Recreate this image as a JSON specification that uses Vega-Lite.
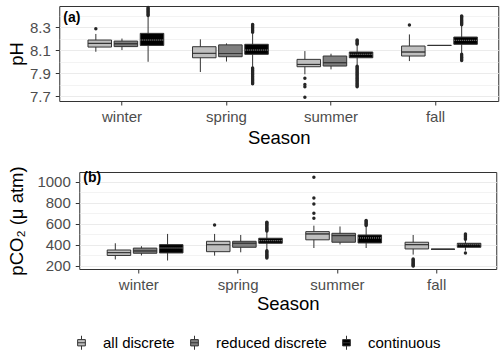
{
  "$schema": "https://vega.github.io/schema/vega-lite/v6.json",
  "background": "white",
  "padding": {"left": 6, "top": 5, "right": 2, "bottom": 2},
  "config": {
    "font": "Liberation Sans",
    "view": {"stroke": "#333333", "strokeWidth": 1},
    "axis": {"domain": false, "labelColor": "#4d4d4d", "labelFontSize": 15, "titleFontSize": 18.5, "titleFontWeight": "normal", "titleColor": "#000000", "tickColor": "#333333", "tickSize": 4, "gridColor": "#ebebeb", "gridWidth": 1},
    "legend": {"orient": "none", "legendX": 15, "legendY": 329, "direction": "horizontal", "labelFontSize": 15, "labelColor": "#000000", "symbolSize": 196, "symbolStrokeColor": "#333333", "symbolStrokeWidth": 1, "labelOffset": 14, "columnPadding": 12}
  },
  "datasets": {
    "ph": [
      {"season": "winter", "group": "all discrete", "lo": 8.085, "q1": 8.126, "med": 8.158, "q3": 8.187, "hi": 8.24},
      {"season": "winter", "group": "reduced discrete", "lo": 8.10, "q1": 8.13, "med": 8.155, "q3": 8.178, "hi": 8.20},
      {"season": "winter", "group": "continuous", "lo": 7.998, "q1": 8.14, "med": 8.187, "q3": 8.245, "hi": 8.395},
      {"season": "spring", "group": "all discrete", "lo": 7.909, "q1": 8.033, "med": 8.071, "q3": 8.129, "hi": 8.193},
      {"season": "spring", "group": "reduced discrete", "lo": 8.0, "q1": 8.042, "med": 8.07, "q3": 8.145, "hi": 8.158},
      {"season": "spring", "group": "continuous", "lo": 7.95, "q1": 8.063, "med": 8.1, "q3": 8.15, "hi": 8.245},
      {"season": "summer", "group": "all discrete", "lo": 7.889, "q1": 7.955, "med": 7.975, "q3": 8.019, "hi": 8.091},
      {"season": "summer", "group": "reduced discrete", "lo": 7.932, "q1": 7.961, "med": 7.99, "q3": 8.048, "hi": 8.068},
      {"season": "summer", "group": "continuous", "lo": 7.967, "q1": 8.033, "med": 8.063, "q3": 8.083, "hi": 8.14},
      {"season": "fall", "group": "all discrete", "lo": 8.004, "q1": 8.048, "med": 8.083, "q3": 8.135, "hi": 8.236},
      {"season": "fall", "group": "reduced discrete", "lo": 8.14, "q1": 8.14, "med": 8.14, "q3": 8.14, "hi": 8.14},
      {"season": "fall", "group": "continuous", "lo": 8.07, "q1": 8.15, "med": 8.184, "q3": 8.213, "hi": 8.31}
    ],
    "pho": [
      {"season": "winter", "group": "all discrete", "v": 8.285},
      {"season": "winter", "group": "continuous", "v": 8.40},
      {"season": "winter", "group": "continuous", "v": 8.41},
      {"season": "winter", "group": "continuous", "v": 8.42},
      {"season": "winter", "group": "continuous", "v": 8.43},
      {"season": "winter", "group": "continuous", "v": 8.44},
      {"season": "winter", "group": "continuous", "v": 8.45},
      {"season": "winter", "group": "continuous", "v": 8.46},
      {"season": "winter", "group": "continuous", "v": 8.47},
      {"season": "spring", "group": "continuous", "v": 8.255},
      {"season": "spring", "group": "continuous", "v": 8.265},
      {"season": "spring", "group": "continuous", "v": 8.275},
      {"season": "spring", "group": "continuous", "v": 8.285},
      {"season": "spring", "group": "continuous", "v": 8.295},
      {"season": "spring", "group": "continuous", "v": 8.305},
      {"season": "spring", "group": "continuous", "v": 8.315},
      {"season": "spring", "group": "continuous", "v": 8.322},
      {"season": "spring", "group": "continuous", "v": 7.945},
      {"season": "spring", "group": "continuous", "v": 7.935},
      {"season": "spring", "group": "continuous", "v": 7.925},
      {"season": "spring", "group": "continuous", "v": 7.915},
      {"season": "spring", "group": "continuous", "v": 7.905},
      {"season": "spring", "group": "continuous", "v": 7.895},
      {"season": "spring", "group": "continuous", "v": 7.885},
      {"season": "spring", "group": "continuous", "v": 7.875},
      {"season": "spring", "group": "continuous", "v": 7.865},
      {"season": "spring", "group": "continuous", "v": 7.855},
      {"season": "spring", "group": "continuous", "v": 7.845},
      {"season": "spring", "group": "continuous", "v": 7.835},
      {"season": "spring", "group": "continuous", "v": 7.825},
      {"season": "spring", "group": "continuous", "v": 7.815},
      {"season": "spring", "group": "continuous", "v": 7.807},
      {"season": "summer", "group": "all discrete", "v": 7.854},
      {"season": "summer", "group": "all discrete", "v": 7.80},
      {"season": "summer", "group": "all discrete", "v": 7.78},
      {"season": "summer", "group": "all discrete", "v": 7.689},
      {"season": "summer", "group": "continuous", "v": 8.15},
      {"season": "summer", "group": "continuous", "v": 8.16},
      {"season": "summer", "group": "continuous", "v": 8.17},
      {"season": "summer", "group": "continuous", "v": 8.18},
      {"season": "summer", "group": "continuous", "v": 8.187},
      {"season": "summer", "group": "continuous", "v": 7.96},
      {"season": "summer", "group": "continuous", "v": 7.95},
      {"season": "summer", "group": "continuous", "v": 7.94},
      {"season": "summer", "group": "continuous", "v": 7.93},
      {"season": "summer", "group": "continuous", "v": 7.92},
      {"season": "summer", "group": "continuous", "v": 7.91},
      {"season": "summer", "group": "continuous", "v": 7.90},
      {"season": "summer", "group": "continuous", "v": 7.89},
      {"season": "summer", "group": "continuous", "v": 7.88},
      {"season": "summer", "group": "continuous", "v": 7.87},
      {"season": "summer", "group": "continuous", "v": 7.86},
      {"season": "summer", "group": "continuous", "v": 7.85},
      {"season": "summer", "group": "continuous", "v": 7.84},
      {"season": "summer", "group": "continuous", "v": 7.83},
      {"season": "summer", "group": "continuous", "v": 7.82},
      {"season": "summer", "group": "continuous", "v": 7.81},
      {"season": "summer", "group": "continuous", "v": 7.80},
      {"season": "summer", "group": "continuous", "v": 7.79},
      {"season": "summer", "group": "continuous", "v": 7.78},
      {"season": "fall", "group": "all discrete", "v": 8.317},
      {"season": "fall", "group": "continuous", "v": 8.32},
      {"season": "fall", "group": "continuous", "v": 8.33},
      {"season": "fall", "group": "continuous", "v": 8.34},
      {"season": "fall", "group": "continuous", "v": 8.35},
      {"season": "fall", "group": "continuous", "v": 8.36},
      {"season": "fall", "group": "continuous", "v": 8.37},
      {"season": "fall", "group": "continuous", "v": 8.38},
      {"season": "fall", "group": "continuous", "v": 8.39},
      {"season": "fall", "group": "continuous", "v": 8.396},
      {"season": "fall", "group": "continuous", "v": 8.063},
      {"season": "fall", "group": "continuous", "v": 8.05},
      {"season": "fall", "group": "continuous", "v": 8.04},
      {"season": "fall", "group": "continuous", "v": 8.03},
      {"season": "fall", "group": "continuous", "v": 8.02},
      {"season": "fall", "group": "continuous", "v": 8.01}
    ],
    "co2": [
      {"season": "winter", "group": "all discrete", "lo": 262, "q1": 300, "med": 327, "q3": 352, "hi": 416},
      {"season": "winter", "group": "reduced discrete", "lo": 300, "q1": 321, "med": 343, "q3": 370, "hi": 388},
      {"season": "winter", "group": "continuous", "lo": 252, "q1": 324, "med": 371, "q3": 403, "hi": 505},
      {"season": "spring", "group": "all discrete", "lo": 298, "q1": 336, "med": 403, "q3": 435, "hi": 505},
      {"season": "spring", "group": "reduced discrete", "lo": 330, "q1": 378, "med": 416, "q3": 435, "hi": 495},
      {"season": "spring", "group": "continuous", "lo": 350, "q1": 416, "med": 441, "q3": 464, "hi": 525},
      {"season": "summer", "group": "all discrete", "lo": 371, "q1": 449, "med": 505, "q3": 527, "hi": 584},
      {"season": "summer", "group": "reduced discrete", "lo": 405, "q1": 426, "med": 489, "q3": 511, "hi": 576},
      {"season": "summer", "group": "continuous", "lo": 371, "q1": 419, "med": 467, "q3": 495, "hi": 572},
      {"season": "fall", "group": "all discrete", "lo": 308, "q1": 362, "med": 403, "q3": 426, "hi": 495},
      {"season": "fall", "group": "reduced discrete", "lo": 359, "q1": 359, "med": 359, "q3": 359, "hi": 359},
      {"season": "fall", "group": "continuous", "lo": 346, "q1": 378, "med": 403, "q3": 416, "hi": 445}
    ],
    "co2o": [
      {"season": "spring", "group": "all discrete", "v": 590},
      {"season": "spring", "group": "continuous", "v": 532},
      {"season": "spring", "group": "continuous", "v": 542},
      {"season": "spring", "group": "continuous", "v": 552},
      {"season": "spring", "group": "continuous", "v": 562},
      {"season": "spring", "group": "continuous", "v": 572},
      {"season": "spring", "group": "continuous", "v": 582},
      {"season": "spring", "group": "continuous", "v": 592},
      {"season": "spring", "group": "continuous", "v": 602},
      {"season": "spring", "group": "continuous", "v": 612},
      {"season": "spring", "group": "continuous", "v": 616},
      {"season": "spring", "group": "continuous", "v": 345},
      {"season": "spring", "group": "continuous", "v": 335},
      {"season": "spring", "group": "continuous", "v": 325},
      {"season": "spring", "group": "continuous", "v": 315},
      {"season": "spring", "group": "continuous", "v": 305},
      {"season": "spring", "group": "continuous", "v": 295},
      {"season": "spring", "group": "continuous", "v": 285},
      {"season": "spring", "group": "continuous", "v": 275},
      {"season": "summer", "group": "all discrete", "v": 654},
      {"season": "summer", "group": "all discrete", "v": 702},
      {"season": "summer", "group": "all discrete", "v": 790},
      {"season": "summer", "group": "all discrete", "v": 848},
      {"season": "summer", "group": "all discrete", "v": 1045},
      {"season": "summer", "group": "continuous", "v": 585},
      {"season": "summer", "group": "continuous", "v": 595},
      {"season": "summer", "group": "continuous", "v": 605},
      {"season": "summer", "group": "continuous", "v": 615},
      {"season": "summer", "group": "continuous", "v": 625},
      {"season": "summer", "group": "continuous", "v": 632},
      {"season": "fall", "group": "all discrete", "v": 267},
      {"season": "fall", "group": "all discrete", "v": 258},
      {"season": "fall", "group": "all discrete", "v": 249},
      {"season": "fall", "group": "all discrete", "v": 240},
      {"season": "fall", "group": "all discrete", "v": 231},
      {"season": "fall", "group": "all discrete", "v": 222},
      {"season": "fall", "group": "all discrete", "v": 213},
      {"season": "fall", "group": "all discrete", "v": 204},
      {"season": "fall", "group": "all discrete", "v": 199},
      {"season": "fall", "group": "continuous", "v": 455},
      {"season": "fall", "group": "continuous", "v": 465},
      {"season": "fall", "group": "continuous", "v": 475},
      {"season": "fall", "group": "continuous", "v": 485},
      {"season": "fall", "group": "continuous", "v": 495},
      {"season": "fall", "group": "continuous", "v": 505},
      {"season": "fall", "group": "continuous", "v": 324}
    ]
  },
  "spacing": 18,
  "center": true,
  "vconcat": [
    {
      "width": 439,
      "height": 95,
      "title": {"text": "(a)", "anchor": "start", "frame": "group", "offset": -19, "dx": 4, "fontSize": 14, "fontWeight": "bold", "color": "#000000"},
      "resolve": {"axis": {"y": "independent"}, "scale": {"stroke": "independent", "strokeDash": "independent"}},
      "layer": [
        {
          "data": {"name": "ph"},
          "mark": {"type": "rule", "color": "#333333", "strokeWidth": 1},
          "encoding": {
            "x": {"field": "season", "type": "nominal", "sort": ["winter", "spring", "summer", "fall"], "scale": {"paddingInner": 0, "paddingOuter": 0.1}, "title": "Season", "axis": {"labelAngle": 0, "labelPadding": 4, "titlePadding": 4}},
            "xOffset": {"field": "group", "sort": ["all discrete", "reduced discrete", "continuous"], "scale": {"paddingInner": 0, "paddingOuter": 0.5}},
            "y": {"field": "lo", "type": "quantitative", "scale": {"domain": [7.657, 8.483], "nice": false, "zero": false}, "title": "pH", "axis": {"values": [7.7, 7.9, 8.1, 8.3], "format": ".1f", "labelPadding": 5, "titlePadding": 3}},
            "y2": {"field": "hi"}
          }
        },
        {
          "data": {"name": "ph"},
          "mark": {"type": "bar", "stroke": "#333333", "strokeWidth": 1, "width": {"band": 0.9}},
          "encoding": {
            "x": {"field": "season", "type": "nominal", "sort": ["winter", "spring", "summer", "fall"]},
            "xOffset": {"field": "group", "sort": ["all discrete", "reduced discrete", "continuous"]},
            "y": {"field": "q1", "type": "quantitative", "scale": {"domain": [7.657, 8.483], "nice": false, "zero": false}, "axis": {"orient": "right", "values": [7.8, 8.0, 8.2, 8.4], "labels": false, "ticks": false, "domain": false, "title": null, "grid": true, "gridWidth": 0.6}},
            "y2": {"field": "q3"},
            "color": {"field": "group", "type": "nominal", "sort": ["all discrete", "reduced discrete", "continuous"], "scale": {"domain": ["all discrete", "reduced discrete", "continuous"], "range": ["#bfbfbf", "#7f7f7f", "#000000"]}, "legend": {"title": null, "symbolType": "M0,-1V-0.45M-0.55,-0.45H0.55V0.45H-0.55ZM-0.55,0H0.55M0,0.45V1"}}
          }
        },
        {
          "data": {"name": "ph"},
          "mark": {"type": "bar", "strokeWidth": 1, "fill": null, "width": {"band": 0.9}},
          "encoding": {
            "x": {"field": "season", "type": "nominal", "sort": ["winter", "spring", "summer", "fall"]},
            "xOffset": {"field": "group", "sort": ["all discrete", "reduced discrete", "continuous"]},
            "y": {"field": "med", "type": "quantitative", "scale": {"domain": [7.657, 8.483], "nice": false, "zero": false}, "axis": null},
            "y2": {"field": "med"},
            "stroke": {"field": "group", "type": "nominal", "scale": {"domain": ["all discrete", "reduced discrete", "continuous"], "range": ["#333333", "#333333", "#6e6e6e"]}, "legend": null},
            "strokeDash": {"field": "group", "type": "nominal", "scale": {"domain": ["all discrete", "reduced discrete", "continuous"], "range": [[1, 0], [1, 0], [1, 1]]}, "legend": null}
          }
        },
        {
          "data": {"name": "pho"},
          "mark": {"type": "circle", "color": "#262626", "opacity": 1, "size": 12},
          "encoding": {
            "x": {"field": "season", "type": "nominal", "sort": ["winter", "spring", "summer", "fall"]},
            "xOffset": {"field": "group", "sort": ["all discrete", "reduced discrete", "continuous"]},
            "y": {"field": "v", "type": "quantitative", "scale": {"domain": [7.657, 8.483], "nice": false, "zero": false}, "axis": {"orient": "right", "offset": 18, "labels": false, "ticks": false, "grid": false, "title": null, "domain": true, "domainOpacity": 0}}
          }
        }
      ]
    },
    {
      "width": 417,
      "height": 97,
      "title": {"text": "(b)", "anchor": "start", "frame": "group", "offset": -19, "dx": 4, "fontSize": 14, "fontWeight": "bold", "color": "#000000"},
      "resolve": {"axis": {"y": "independent"}, "scale": {"stroke": "independent", "strokeDash": "independent"}},
      "layer": [
        {
          "data": {"name": "co2"},
          "mark": {"type": "rule", "color": "#333333", "strokeWidth": 1},
          "encoding": {
            "x": {"field": "season", "type": "nominal", "sort": ["winter", "spring", "summer", "fall"], "scale": {"paddingInner": 0, "paddingOuter": 0.1}, "title": "Season", "axis": {"labelAngle": 0, "labelPadding": 4, "titlePadding": 2}},
            "xOffset": {"field": "group", "sort": ["all discrete", "reduced discrete", "continuous"], "scale": {"paddingInner": 0, "paddingOuter": 0.5}},
            "y": {"field": "lo", "type": "quantitative", "scale": {"domain": [171, 1095], "nice": false, "zero": false}, "title": "pCO₂ (μ atm)", "axis": {"values": [200, 400, 600, 800, 1000], "format": "d", "labelPadding": 5, "titlePadding": 10}},
            "y2": {"field": "hi"}
          }
        },
        {
          "data": {"name": "co2"},
          "mark": {"type": "bar", "stroke": "#333333", "strokeWidth": 1, "width": {"band": 0.9}},
          "encoding": {
            "x": {"field": "season", "type": "nominal", "sort": ["winter", "spring", "summer", "fall"]},
            "xOffset": {"field": "group", "sort": ["all discrete", "reduced discrete", "continuous"]},
            "y": {"field": "q1", "type": "quantitative", "scale": {"domain": [171, 1095], "nice": false, "zero": false}, "axis": {"orient": "right", "values": [300, 500, 700, 900], "labels": false, "ticks": false, "domain": false, "title": null, "grid": true, "gridWidth": 0.6}},
            "y2": {"field": "q3"},
            "color": {"field": "group", "type": "nominal", "sort": ["all discrete", "reduced discrete", "continuous"], "scale": {"domain": ["all discrete", "reduced discrete", "continuous"], "range": ["#bfbfbf", "#7f7f7f", "#000000"]}, "legend": {"title": null, "symbolType": "M0,-1V-0.45M-0.55,-0.45H0.55V0.45H-0.55ZM-0.55,0H0.55M0,0.45V1"}}
          }
        },
        {
          "data": {"name": "co2"},
          "mark": {"type": "bar", "strokeWidth": 1, "fill": null, "width": {"band": 0.9}},
          "encoding": {
            "x": {"field": "season", "type": "nominal", "sort": ["winter", "spring", "summer", "fall"]},
            "xOffset": {"field": "group", "sort": ["all discrete", "reduced discrete", "continuous"]},
            "y": {"field": "med", "type": "quantitative", "scale": {"domain": [171, 1095], "nice": false, "zero": false}, "axis": null},
            "y2": {"field": "med"},
            "stroke": {"field": "group", "type": "nominal", "scale": {"domain": ["all discrete", "reduced discrete", "continuous"], "range": ["#333333", "#333333", "#6e6e6e"]}, "legend": null},
            "strokeDash": {"field": "group", "type": "nominal", "scale": {"domain": ["all discrete", "reduced discrete", "continuous"], "range": [[1, 0], [1, 0], [1, 1]]}, "legend": null}
          }
        },
        {
          "data": {"name": "co2o"},
          "mark": {"type": "circle", "color": "#262626", "opacity": 1, "size": 12},
          "encoding": {
            "x": {"field": "season", "type": "nominal", "sort": ["winter", "spring", "summer", "fall"]},
            "xOffset": {"field": "group", "sort": ["all discrete", "reduced discrete", "continuous"]},
            "y": {"field": "v", "type": "quantitative", "scale": {"domain": [171, 1095], "nice": false, "zero": false}, "axis": null}
          }
        }
      ]
    }
  ]
}
